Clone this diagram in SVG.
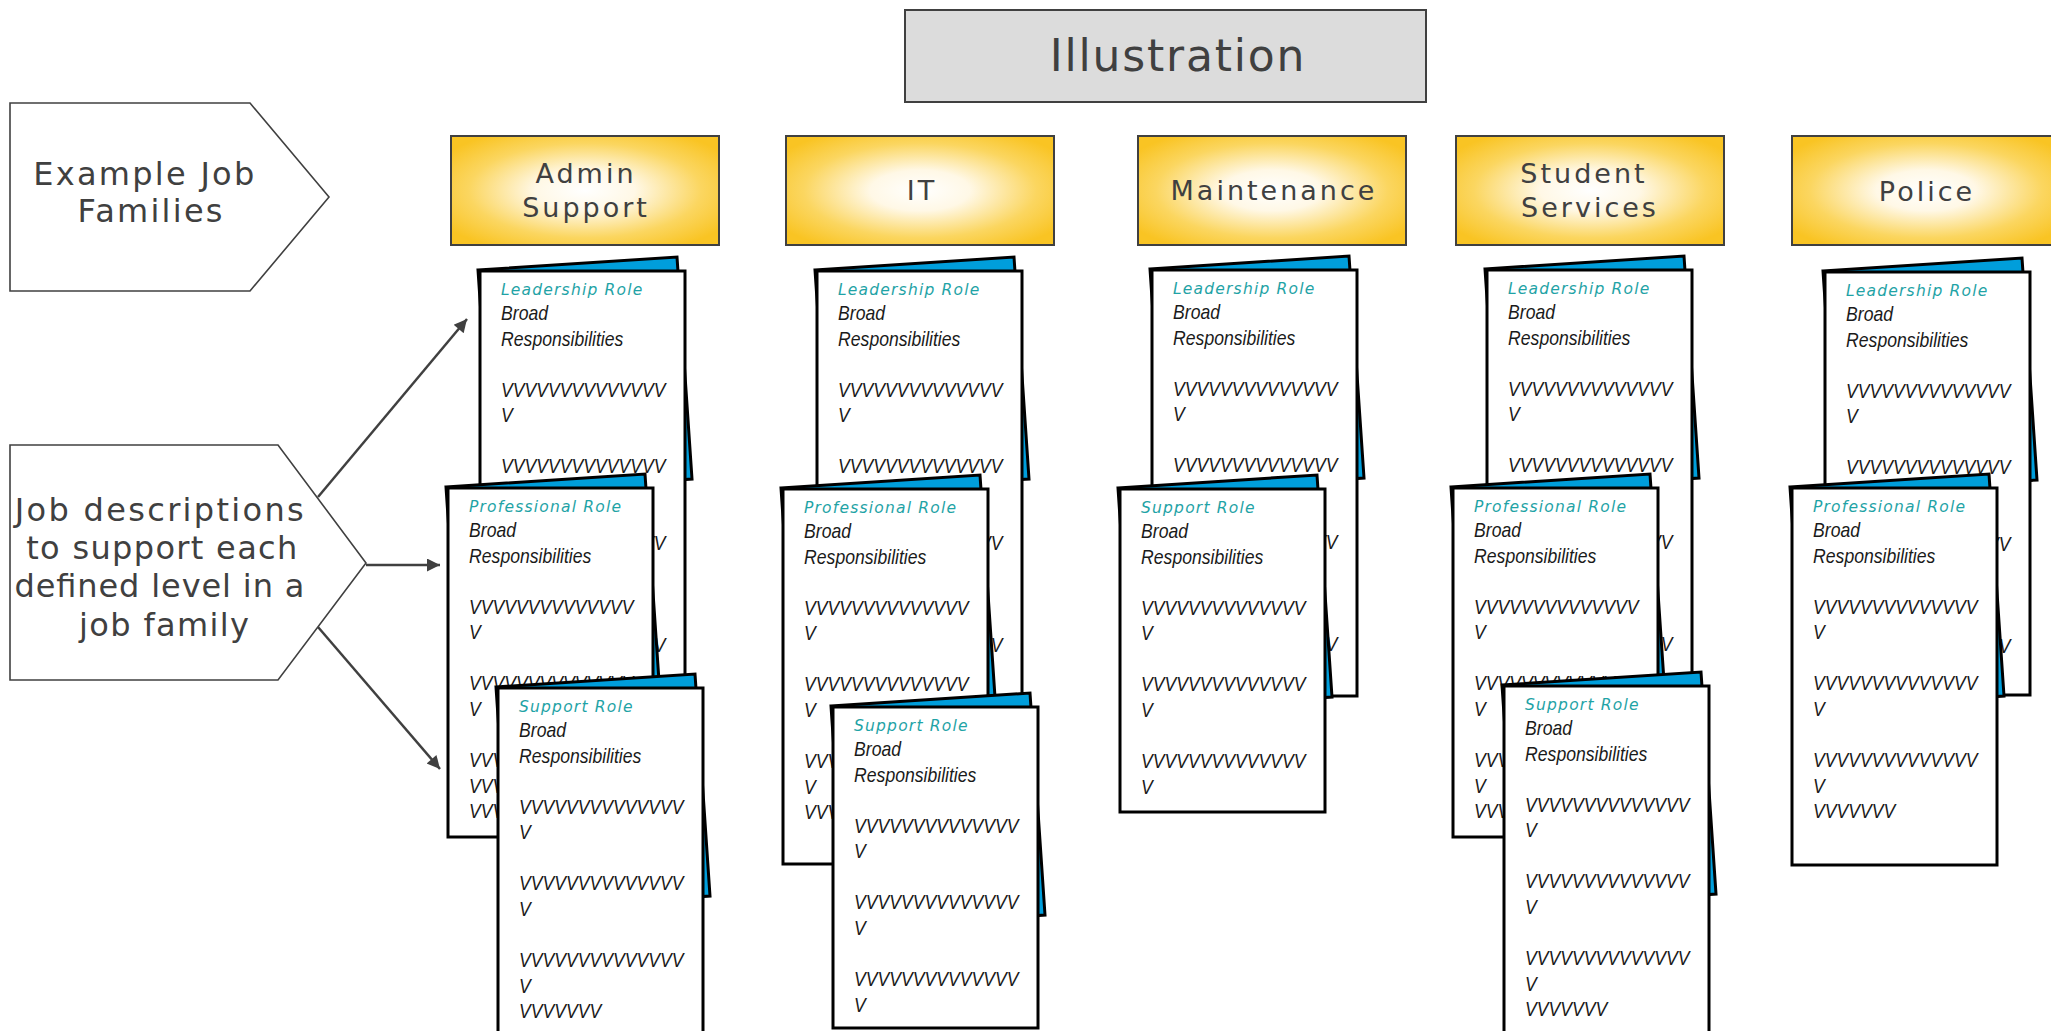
<svg xmlns="http://www.w3.org/2000/svg" xmlns:xlink="http://www.w3.org/1999/xlink" width="2051" height="1031" viewBox="0 0 2051 1031">
  <style>
    .lbl { font-family: "DejaVu Sans", "Liberation Sans", sans-serif; fill: #404040; }
    .hdr { font-size: 27px; letter-spacing: 3px; text-anchor: middle; }
    .box { stroke: #404040; stroke-width: 2; }
    .shape { fill: #ffffff; stroke: #404040; stroke-width: 1.6; }
    .sheet { fill: #ffffff; stroke: #000000; stroke-width: 3; }
    .back { fill: #009edb; stroke: #000000; stroke-width: 3; stroke-linejoin: miter; }
    .t { font-family: "DejaVu Sans", "Liberation Sans", sans-serif; font-style: oblique; font-size: 15.5px; letter-spacing: 1.2px; fill: #1fa3a6; }
    .b { font-family: "Liberation Sans", Arial, sans-serif; font-style: italic; font-size: 20px; fill: #1a1a1a; transform: scaleX(0.88); }
    .conn { stroke: #404040; stroke-width: 2.5; fill: none; }
  </style>
  <defs>
    <radialGradient id="famFill" cx="0.5" cy="0.5" r="0.62">
      <stop offset="0" stop-color="#ffffff"/>
      <stop offset="0.3" stop-color="#fff8e6"/>
      <stop offset="0.7" stop-color="#fbd660"/>
      <stop offset="1" stop-color="#f9c423"/>
    </radialGradient>
    <!-- tilted blue page behind each document -->
    <polygon id="backPage" class="back" points="-2,-1 197,-14 212,208 13,221"/>
    <marker id="arrow" viewBox="0 0 10 10" refX="10" refY="5" markerUnits="userSpaceOnUse" markerWidth="16" markerHeight="13" orient="auto">
      <path d="M0,0 L10,5 L0,10 z" fill="#404040"/>
    </marker>
  </defs>

  <rect width="2051" height="1031" fill="#ffffff"/>

  <!-- title -->
  <g id="illustration">
    <rect class="box" x="905" y="10" width="521" height="92" fill="#dcdcdc"/>
    <text class="lbl" x="1178" y="71" font-size="44" letter-spacing="1.8" text-anchor="middle">Illustration</text>
  </g>

  <!-- left-hand labels -->
  <g id="example-job-families">
    <polygon class="shape" points="10,103 250,103 329,197 250,291 10,291"/>
    <text class="lbl" font-size="32" text-anchor="middle">
      <tspan x="150" y="185" textLength="221" lengthAdjust="spacing">Example Job</tspan>
      <tspan x="150" y="222" textLength="145" lengthAdjust="spacing">Families</tspan>
    </text>
  </g>
  <g id="job-descriptions">
    <polygon class="shape" points="10,445 278,445 366,563 278,680 10,680"/>
    <text class="lbl" font-size="32" text-anchor="middle">
      <tspan x="165.5" y="521" textLength="289" lengthAdjust="spacing">Job descriptions</tspan>
      <tspan x="167.5" y="559" textLength="271" lengthAdjust="spacing">to support each</tspan>
      <tspan x="165" y="597" textLength="290" lengthAdjust="spacing">defined level in a</tspan>
      <tspan x="164" y="636" textLength="170" lengthAdjust="spacing">job family</tspan>
    </text>
  </g>

  <!-- job family headers -->
  <g id="fam-admin">
    <rect class="box" x="451" y="136" width="268" height="109" fill="url(#famFill)"/>
    <text class="lbl hdr"><tspan x="586" y="183">Admin</tspan><tspan x="586" y="217">Support</tspan></text>
  </g>
  <g id="fam-it">
    <rect class="box" x="786" y="136" width="268" height="109" fill="url(#famFill)"/>
    <text class="lbl hdr" x="922" y="200">IT</text>
  </g>
  <g id="fam-maintenance">
    <rect class="box" x="1138" y="136" width="268" height="109" fill="url(#famFill)"/>
    <text class="lbl hdr" x="1274" y="200">Maintenance</text>
  </g>
  <g id="fam-student">
    <rect class="box" x="1456" y="136" width="268" height="109" fill="url(#famFill)"/>
    <text class="lbl hdr"><tspan x="1584" y="183">Student</tspan><tspan x="1590" y="217">Services</tspan></text>
  </g>
  <g id="fam-police">
    <rect class="box" x="1792" y="136" width="268" height="109" fill="url(#famFill)"/>
    <text class="lbl hdr" x="1927" y="201">Police</text>
  </g>

  <!-- connectors -->
  <g id="connectors">
    <line class="conn" x1="318" y1="497" x2="467" y2="319" marker-end="url(#arrow)"/>
    <line class="conn" x1="366" y1="565" x2="440" y2="565" marker-end="url(#arrow)"/>
    <line class="conn" x1="318" y1="627" x2="440" y2="769" marker-end="url(#arrow)"/>
  </g>

  <!-- ===== Admin Support documents ===== -->
  <g id="admin-leadership" transform="translate(480,271)">
    <use href="#backPage"/>
    <rect class="sheet" width="205" height="425"/>
    <text class="t" x="21" y="24">Leadership Role</text>
    <text class="b"><tspan x="24" y="49.5">Broad</tspan><tspan x="24" y="75">Responsibilities</tspan><tspan x="24" y="126">VVVVVVVVVVVVVV</tspan><tspan x="24" y="151.5">V</tspan><tspan x="24" y="202.5">VVVVVVVVVVVVVV</tspan><tspan x="24" y="228">V</tspan><tspan x="24" y="279">VVVVVVVVVVVVVV</tspan><tspan x="24" y="381">VVVVVVVVVVVVVV</tspan></text>
  </g>
  <g id="admin-professional" transform="translate(448,488)">
    <use href="#backPage"/>
    <rect class="sheet" width="205" height="349"/>
    <text class="t" x="21" y="24">Professional Role</text>
    <text class="b"><tspan x="24" y="49.5">Broad</tspan><tspan x="24" y="75">Responsibilities</tspan><tspan x="24" y="126">VVVVVVVVVVVVVV</tspan><tspan x="24" y="151.5">V</tspan><tspan x="24" y="202.5">VVVVVVVVVVVVVV</tspan><tspan x="24" y="228">V</tspan><tspan x="24" y="279">VVVVVVVVVVVVVV</tspan><tspan x="24" y="304.5">VVVVVVVVVVVVVV</tspan><tspan x="24" y="330">VVVVVVV</tspan></text>
  </g>
  <g id="admin-support" transform="translate(498,688)">
    <use href="#backPage"/>
    <rect class="sheet" width="205" height="360"/>
    <text class="t" x="21" y="24">Support Role</text>
    <text class="b"><tspan x="24" y="49.5">Broad</tspan><tspan x="24" y="75">Responsibilities</tspan><tspan x="24" y="126">VVVVVVVVVVVVVV</tspan><tspan x="24" y="151.5">V</tspan><tspan x="24" y="202.5">VVVVVVVVVVVVVV</tspan><tspan x="24" y="228">V</tspan><tspan x="24" y="279">VVVVVVVVVVVVVV</tspan><tspan x="24" y="304.5">V</tspan><tspan x="24" y="330">VVVVVVV</tspan></text>
  </g>

  <!-- ===== IT documents ===== -->
  <g id="it-leadership" transform="translate(817,271)">
    <use href="#backPage"/>
    <rect class="sheet" width="205" height="425"/>
    <text class="t" x="21" y="24">Leadership Role</text>
    <text class="b"><tspan x="24" y="49.5">Broad</tspan><tspan x="24" y="75">Responsibilities</tspan><tspan x="24" y="126">VVVVVVVVVVVVVV</tspan><tspan x="24" y="151.5">V</tspan><tspan x="24" y="202.5">VVVVVVVVVVVVVV</tspan><tspan x="24" y="228">V</tspan><tspan x="24" y="279">VVVVVVVVVVVVVV</tspan><tspan x="24" y="381">VVVVVVVVVVVVVV</tspan></text>
  </g>
  <g id="it-professional" transform="translate(783,489)">
    <use href="#backPage"/>
    <rect class="sheet" width="205" height="375"/>
    <text class="t" x="21" y="24">Professional Role</text>
    <text class="b"><tspan x="24" y="49.5">Broad</tspan><tspan x="24" y="75">Responsibilities</tspan><tspan x="24" y="126">VVVVVVVVVVVVVV</tspan><tspan x="24" y="151.5">V</tspan><tspan x="24" y="202.5">VVVVVVVVVVVVVV</tspan><tspan x="24" y="228">V</tspan><tspan x="24" y="279">VVVVVVVVVVVVVV</tspan><tspan x="24" y="304.5">V</tspan><tspan x="24" y="330">VVVVVVV</tspan></text>
  </g>
  <g id="it-support" transform="translate(833,707)">
    <use href="#backPage"/>
    <rect class="sheet" width="205" height="321"/>
    <text class="t" x="21" y="24">Support Role</text>
    <text class="b"><tspan x="24" y="49.5">Broad</tspan><tspan x="24" y="75">Responsibilities</tspan><tspan x="24" y="126">VVVVVVVVVVVVVV</tspan><tspan x="24" y="151.5">V</tspan><tspan x="24" y="202.5">VVVVVVVVVVVVVV</tspan><tspan x="24" y="228">V</tspan><tspan x="24" y="279">VVVVVVVVVVVVVV</tspan><tspan x="24" y="304.5">V</tspan></text>
  </g>

  <!-- ===== Maintenance documents ===== -->
  <g id="maint-leadership" transform="translate(1152,270)">
    <use href="#backPage"/>
    <rect class="sheet" width="205" height="426"/>
    <text class="t" x="21" y="24">Leadership Role</text>
    <text class="b"><tspan x="24" y="49.5">Broad</tspan><tspan x="24" y="75">Responsibilities</tspan><tspan x="24" y="126">VVVVVVVVVVVVVV</tspan><tspan x="24" y="151.5">V</tspan><tspan x="24" y="202.5">VVVVVVVVVVVVVV</tspan><tspan x="24" y="228">V</tspan><tspan x="24" y="279">VVVVVVVVVVVVVV</tspan><tspan x="24" y="381">VVVVVVVVVVVVVV</tspan></text>
  </g>
  <g id="maint-support" transform="translate(1120,489)">
    <use href="#backPage"/>
    <rect class="sheet" width="205" height="323"/>
    <text class="t" x="21" y="24">Support Role</text>
    <text class="b"><tspan x="24" y="49.5">Broad</tspan><tspan x="24" y="75">Responsibilities</tspan><tspan x="24" y="126">VVVVVVVVVVVVVV</tspan><tspan x="24" y="151.5">V</tspan><tspan x="24" y="202.5">VVVVVVVVVVVVVV</tspan><tspan x="24" y="228">V</tspan><tspan x="24" y="279">VVVVVVVVVVVVVV</tspan><tspan x="24" y="304.5">V</tspan></text>
  </g>

  <!-- ===== Student Services documents ===== -->
  <g id="student-leadership" transform="translate(1487,270)">
    <use href="#backPage"/>
    <rect class="sheet" width="205" height="426"/>
    <text class="t" x="21" y="24">Leadership Role</text>
    <text class="b"><tspan x="24" y="49.5">Broad</tspan><tspan x="24" y="75">Responsibilities</tspan><tspan x="24" y="126">VVVVVVVVVVVVVV</tspan><tspan x="24" y="151.5">V</tspan><tspan x="24" y="202.5">VVVVVVVVVVVVVV</tspan><tspan x="24" y="228">V</tspan><tspan x="24" y="279">VVVVVVVVVVVVVV</tspan><tspan x="24" y="381">VVVVVVVVVVVVVV</tspan></text>
  </g>
  <g id="student-professional" transform="translate(1453,488)">
    <use href="#backPage"/>
    <rect class="sheet" width="205" height="349"/>
    <text class="t" x="21" y="24">Professional Role</text>
    <text class="b"><tspan x="24" y="49.5">Broad</tspan><tspan x="24" y="75">Responsibilities</tspan><tspan x="24" y="126">VVVVVVVVVVVVVV</tspan><tspan x="24" y="151.5">V</tspan><tspan x="24" y="202.5">VVVVVVVVVVVVVV</tspan><tspan x="24" y="228">V</tspan><tspan x="24" y="279">VVVVVVVVVVVVVV</tspan><tspan x="24" y="304.5">V</tspan><tspan x="24" y="330">VVVVVVV</tspan></text>
  </g>
  <g id="student-support" transform="translate(1504,686)">
    <use href="#backPage"/>
    <rect class="sheet" width="205" height="360"/>
    <text class="t" x="21" y="24">Support Role</text>
    <text class="b"><tspan x="24" y="49.5">Broad</tspan><tspan x="24" y="75">Responsibilities</tspan><tspan x="24" y="126">VVVVVVVVVVVVVV</tspan><tspan x="24" y="151.5">V</tspan><tspan x="24" y="202.5">VVVVVVVVVVVVVV</tspan><tspan x="24" y="228">V</tspan><tspan x="24" y="279">VVVVVVVVVVVVVV</tspan><tspan x="24" y="304.5">V</tspan><tspan x="24" y="330">VVVVVVV</tspan></text>
  </g>

  <!-- ===== Police documents ===== -->
  <g id="police-leadership" transform="translate(1825,272)">
    <use href="#backPage"/>
    <rect class="sheet" width="205" height="423"/>
    <text class="t" x="21" y="24">Leadership Role</text>
    <text class="b"><tspan x="24" y="49.5">Broad</tspan><tspan x="24" y="75">Responsibilities</tspan><tspan x="24" y="126">VVVVVVVVVVVVVV</tspan><tspan x="24" y="151.5">V</tspan><tspan x="24" y="202.5">VVVVVVVVVVVVVV</tspan><tspan x="24" y="228">V</tspan><tspan x="24" y="279">VVVVVVVVVVVVVV</tspan><tspan x="24" y="381">VVVVVVVVVVVVVV</tspan></text>
  </g>
  <g id="police-professional" transform="translate(1792,488)">
    <use href="#backPage"/>
    <rect class="sheet" width="205" height="377"/>
    <text class="t" x="21" y="24">Professional Role</text>
    <text class="b"><tspan x="24" y="49.5">Broad</tspan><tspan x="24" y="75">Responsibilities</tspan><tspan x="24" y="126">VVVVVVVVVVVVVV</tspan><tspan x="24" y="151.5">V</tspan><tspan x="24" y="202.5">VVVVVVVVVVVVVV</tspan><tspan x="24" y="228">V</tspan><tspan x="24" y="279">VVVVVVVVVVVVVV</tspan><tspan x="24" y="304.5">V</tspan><tspan x="24" y="330">VVVVVVV</tspan></text>
  </g>
</svg>
